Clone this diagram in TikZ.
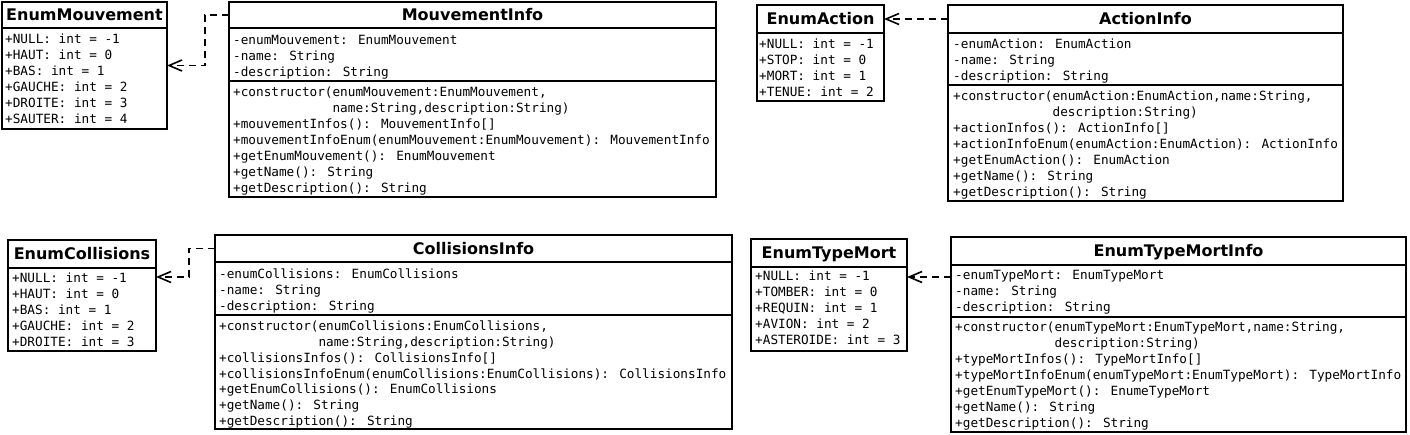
\documentclass[tikz,border=0pt]{standalone}
\usepackage{fontspec}
\setmainfont{DejaVu Sans}
\newfontfamily\monof{DejaVu Sans Mono}
\usetikzlibrary{arrows.meta}
\tikzset{
 umlbox/.style={draw, line width=1.9pt, inner sep=0pt, outer sep=0pt, anchor=north west},
 umldiv/.style={line width=1.9pt},
 titletxt/.style={font=\bfseries\fontsize{16}{16}\selectfont, inner sep=0pt, text height=11.7pt, text depth=0pt},
 rowtxt/.style={font=\monof\fontsize{12.7}{16}\selectfont, inner sep=0pt, anchor=west, text height=9.26pt, text depth=0pt},
 dep/.style={line width=1.6pt, dash pattern=on 7pt off 5pt, -{Straight Barb[length=13pt,width=11pt]}},
}
\newcommand\umlrows[5]{%
 \foreach \rowtext [count=\i from 0] in {#5} {
  \node[rowtxt] (#1\i) at ({#2},{#3+\i*#4}) {\rowtext};
 }%
}
\begin{document}
\begin{tikzpicture}[x=1pt,y=-1pt]
\useasboundingbox (0,0) rectangle (1410,435);

% ---------- EnumMouvement
\node[umlbox, minimum width=165pt, minimum height=127pt] (em) at (2,2) {};
\draw[umldiv] (em.west |- 0,28) -- (em.east |- 0,28);
\node[titletxt] (em-t) at (em.north |- 0,15) {EnumMouvement};
\umlrows{ema}{5}{39}{15.9}{{+NULL: int = -1},{+HAUT: int = 0},{+BAS: int = 1},{+GAUCHE: int = 2},{+DROITE: int = 3},{+SAUTER: int = 4}}

% ---------- MouvementInfo
\node[umlbox, minimum width=487pt, minimum height=195pt] (mi) at (229,2) {};
\draw[umldiv] (mi.west |- 0,28) -- (mi.east |- 0,28);
\draw[umldiv] (mi.west |- 0,81) -- (mi.east |- 0,81);
\node[titletxt] (mi-t) at (mi.north |- 0,15) {MouvementInfo};
\umlrows{mia}{233}{40}{16}{{-enumMouvement: EnumMouvement},{-name: String},{-description: String}}
\umlrows{mim}{233}{92}{15.9}{{+constructor(enumMouvement:EnumMouvement,},{\phantom{+constructor(}name:String,description:String)},{+mouvementInfos(): MouvementInfo[]},{+mouvementInfoEnum(enumMouvement:EnumMouvement): MouvementInfo},{+getEnumMouvement(): EnumMouvement},{+getName(): String},{+getDescription(): String}}

% ---------- EnumAction
\node[umlbox, minimum width=127pt, minimum height=96pt] (ea) at (757,5) {};
\draw[umldiv] (ea.west |- 0,33) -- (ea.east |- 0,33);
\node[titletxt] (ea-t) at (ea.north |- 0,19) {EnumAction};
\umlrows{eaa}{759}{44}{16}{{+NULL: int = -1},{+STOP: int = 0},{+MORT: int = 1},{+TENUE: int = 2}}

% ---------- ActionInfo
\node[umlbox, minimum width=395pt, minimum height=196pt] (ai) at (948,5) {};
\draw[umldiv] (ai.west |- 0,33) -- (ai.east |- 0,33);
\draw[umldiv] (ai.west |- 0,85) -- (ai.east |- 0,85);
\node[titletxt] (ai-t) at (ai.north |- 0,19) {ActionInfo};
\umlrows{aia}{953}{44}{16}{{-enumAction: EnumAction},{-name: String},{-description: String}}
\umlrows{aim}{953}{96}{16}{{+constructor(enumAction:EnumAction,name:String,},{\phantom{+constructor(}description:String)},{+actionInfos(): ActionInfo[]},{+actionInfoEnum(enumAction:EnumAction): ActionInfo},{+getEnumAction(): EnumAction},{+getName(): String},{+getDescription(): String}}

% ---------- EnumCollisions
\node[umlbox, minimum width=148pt, minimum height=111pt] (ec) at (8,240) {};
\draw[umldiv] (ec.west |- 0,268) -- (ec.east |- 0,268);
\node[titletxt] (ec-t) at (ec.north |- 0,254) {EnumCollisions};
\umlrows{eca}{12}{278}{15.9}{{+NULL: int = -1},{+HAUT: int = 0},{+BAS: int = 1},{+GAUCHE: int = 2},{+DROITE: int = 3}}

% ---------- CollisionsInfo
\node[umlbox, minimum width=517pt, minimum height=194pt] (ci) at (215,235) {};
\draw[umldiv] (ci.west |- 0,262) -- (ci.east |- 0,262);
\draw[umldiv] (ci.west |- 0,315) -- (ci.east |- 0,315);
\node[titletxt] (ci-t) at (ci.north |- 0,248.5) {CollisionsInfo};
\umlrows{cia}{219}{273.5}{16}{{-enumCollisions: EnumCollisions},{-name: String},{-description: String}}
\umlrows{cim}{219}{326}{15.8}{{+constructor(enumCollisions:EnumCollisions,},{\phantom{+constructor(}name:String,description:String)},{+collisionsInfos(): CollisionsInfo[]},{+collisionsInfoEnum(enumCollisions:EnumCollisions): CollisionsInfo},{+getEnumCollisions(): EnumCollisions},{+getName(): String},{+getDescription(): String}}

% ---------- EnumTypeMort
\node[umlbox, minimum width=156pt, minimum height=112pt] (et) at (751,239) {};
\draw[umldiv] (et.west |- 0,267) -- (et.east |- 0,267);
\node[titletxt] (et-t) at (et.north |- 0,253) {EnumTypeMort};
\umlrows{eta}{755}{276}{16}{{+NULL: int = -1},{+TOMBER: int = 0},{+REQUIN: int = 1},{+AVION: int = 2},{+ASTEROIDE: int = 3}}

% ---------- EnumTypeMortInfo
\node[umlbox, minimum width=455pt, minimum height=195pt] (eti) at (951,237) {};
\draw[umldiv] (eti.west |- 0,265) -- (eti.east |- 0,265);
\draw[umldiv] (eti.west |- 0,317) -- (eti.east |- 0,317);
\node[titletxt] (eti-t) at (eti.north |- 0,251) {EnumTypeMortInfo};
\umlrows{etia}{955}{275}{16}{{-enumTypeMort: EnumTypeMort},{-name: String},{-description: String}}
\umlrows{etim}{955}{327}{16}{{+constructor(enumTypeMort:EnumTypeMort,name:String,},{\phantom{+constructor(}description:String)},{+typeMortInfos(): TypeMortInfo[]},{+typeMortInfoEnum(enumTypeMort:EnumTypeMort): TypeMortInfo},{+getEnumTypeMort(): EnumeTypeMort},{+getName(): String},{+getDescription(): String}}

% ---------- connectors
\coordinate (ecin) at (ec.east |- 0,277);
\coordinate (etin) at (et.east |- 0,277);
\draw[dep] (mi.west |- mi-t) -- ++(-24,0) |- (em.east);
\draw[dep] (ai.west |- ai-t) -- (ea.east |- ai-t);
\draw[dep] (ci.west |- ci-t) -- ++(-26,0) |- (ecin);
\draw[dep] (eti.west |- etin) -- (etin);
\end{tikzpicture}
\end{document}
